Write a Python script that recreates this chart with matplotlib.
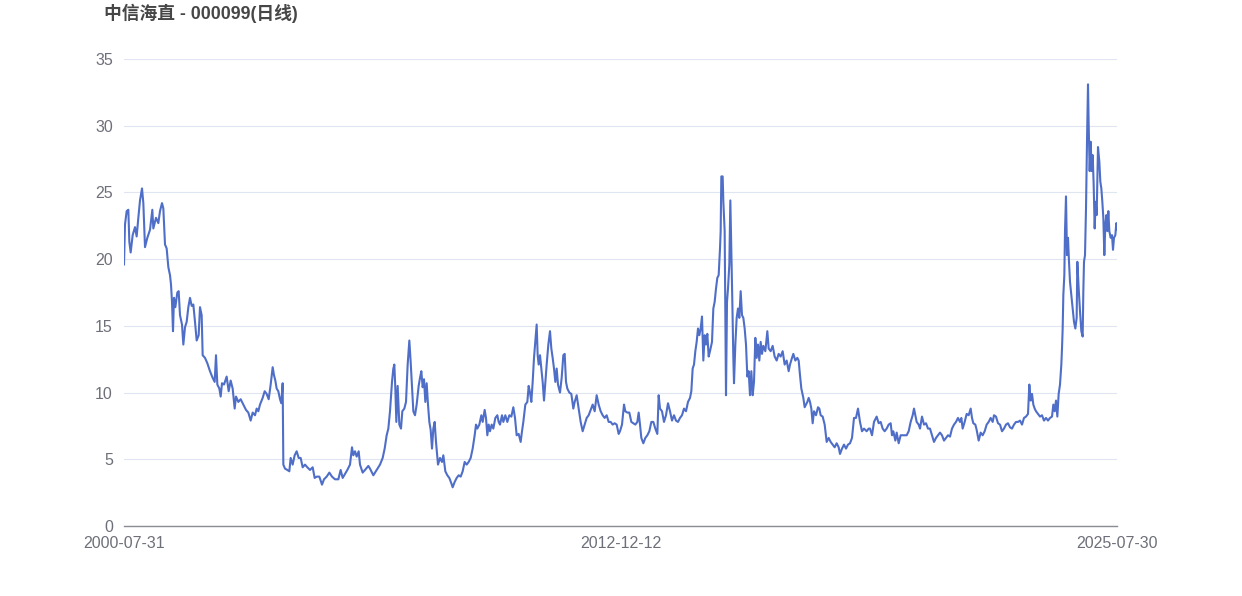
import matplotlib
matplotlib.use('Agg')
import matplotlib.pyplot as plt
import numpy as np

plt.rcParams['font.family'] = ['Liberation Sans', 'Noto Sans CJK SC', 'DejaVu Sans']

title = '中信海直 - 000099(日线)'
tick_dates = ['2000-07-31', '2012-12-12', '2025-07-30']
n_days = 5959  # trading days on the category axis

# trading-day index and close price
days_a = [0, 6, 16, 26, 32, 40, 52, 66, 76, 86, 96, 108, 116, 126, 140, 156, 170, 176, 192, 206,
          216, 228, 236, 246, 256, 266, 276, 282, 288, 294, 300, 308, 320, 328, 336, 348, 356, 366, 376, 386,
          396, 406, 416, 426, 436, 448, 456, 466, 472, 486, 500, 516, 532, 544, 552, 560, 572, 580, 588, 600,
          616, 628, 640, 652, 664, 672, 686, 700, 716, 732, 746, 760, 772, 786, 796, 806, 816, 832, 844, 856,
          868, 880, 892, 900, 908, 916, 926, 936, 944, 952, 956, 966, 980, 992, 1000, 1012, 1024, 1036, 1048, 1060,
          1072, 1086, 1100, 1116, 1132, 1144, 1156, 1172, 1188, 1200, 1216, 1232, 1248, 1266, 1286, 1300, 1312, 1326, 1340, 1356,
          1368, 1376, 1386, 1396, 1408, 1416, 1432, 1446, 1466]
close_a = [19.6, 22.6, 23.6, 23.7, 21.3, 20.5, 21.8, 22.4, 21.7, 23.1, 24.4, 25.3, 24.2, 20.9, 21.6, 22.2, 23.7, 22.3, 23.1, 22.7,
           23.6, 24.2, 23.8, 21.1, 20.8, 19.4, 18.8, 18.1, 16.8, 14.6, 17.1, 16.4, 17.5, 17.6, 15.8, 15.1, 13.6, 14.9, 15.3, 16.4,
           17.1, 16.5, 16.6, 15.3, 13.9, 14.3, 16.4, 15.8, 12.8, 12.6, 12.2, 11.6, 11.1, 10.8, 12.8, 10.6, 10.3, 9.7, 10.7, 10.6,
           11.2, 10.1, 10.9, 10.3, 8.8, 9.7, 9.3, 9.5, 9.1, 8.7, 8.5, 7.9, 8.5, 8.3, 8.8, 8.6, 9.1, 9.6, 10.1, 9.9,
           9.5, 10.6, 11.9, 11.3, 10.9, 10.3, 10.1, 9.5, 9.2, 10.7, 4.6, 4.3, 4.2, 4.1, 5.1, 4.6, 5.3, 5.6, 5.1, 5.1,
           4.4, 4.6, 4.4, 4.2, 4.4, 3.6, 3.7, 3.7, 3.1, 3.5, 3.7, 4.0, 3.7, 3.5, 3.5, 4.2, 3.6, 3.9, 4.2, 4.6,
           5.9, 5.3, 5.6, 5.2, 5.6, 4.6, 4.0, 4.2, 4.5]

days_b = [1476, 1496, 1516, 1536, 1552, 1564, 1576, 1586, 1596, 1608, 1616, 1622, 1628, 1634, 1642, 1652, 1662, 1670, 1682, 1692,
          1702, 1712, 1720, 1728, 1736, 1746, 1756, 1768, 1776, 1784, 1792, 1800, 1808, 1816, 1824, 1832, 1840, 1848, 1856, 1864,
          1872, 1884, 1896, 1908, 1916, 1928, 1940, 1952, 1964, 1972, 1984, 1996, 2008, 2020, 2032, 2044, 2056, 2068, 2080, 2092,
          2104, 2112, 2120, 2132, 2144, 2152, 2164, 2172, 2180, 2188, 2196, 2206, 2216, 2228, 2240, 2248, 2256, 2268, 2276, 2288,
          2300, 2312, 2324, 2336, 2346, 2356, 2368, 2380, 2388, 2396, 2408, 2420, 2428, 2436, 2444, 2452, 2460, 2468, 2476, 2482,
          2488, 2496, 2504, 2512, 2520, 2528, 2536, 2546, 2556, 2564, 2572, 2580, 2588, 2596, 2604, 2616, 2626, 2636, 2644, 2652,
          2660, 2672, 2684, 2696, 2704, 2716, 2728, 2740, 2752, 2764, 2776, 2788, 2800, 2812, 2824, 2836, 2848, 2860, 2872, 2884,
          2896, 2908, 2920, 2932, 2944, 2956, 2968]
close_b = [4.3, 3.8, 4.2, 4.6, 5.1, 5.8, 6.8, 7.3, 8.6, 10.8, 11.8, 12.1, 10.3, 7.8, 10.5, 7.6, 7.3, 8.6, 8.8, 9.3,
           12.1, 13.9, 12.3, 10.5, 8.6, 8.3, 9.1, 10.5, 11.1, 11.6, 10.4, 11.0, 9.3, 10.7, 9.1, 7.8, 7.2, 5.8, 7.3, 7.8,
           6.3, 4.6, 5.1, 4.8, 5.3, 4.1, 3.8, 3.6, 3.2, 2.9, 3.3, 3.6, 3.8, 3.7, 4.1, 4.8, 4.6, 4.8, 5.1, 5.8,
           6.8, 7.6, 7.3, 7.6, 8.3, 7.8, 8.7, 8.1, 6.8, 7.6, 7.1, 7.6, 7.3, 8.1, 8.3, 7.8, 7.6, 8.3, 7.8, 8.3,
           7.8, 8.3, 8.2, 8.9, 8.1, 6.8, 6.9, 6.3, 7.1, 7.8, 9.1, 9.3, 10.5, 10.0, 9.3, 10.8, 12.6, 13.8, 15.1, 12.8,
           12.1, 12.8, 11.8, 10.8, 9.4, 10.8, 12.1, 13.6, 14.6, 13.3, 12.6, 11.8, 10.8, 11.8, 10.6, 10.0, 11.1, 12.8, 12.9, 10.8,
           10.3, 10.0, 9.9, 8.8, 9.3, 9.8, 8.8, 7.8, 7.1, 7.6, 8.1, 8.3, 8.7, 9.1, 8.6, 9.8, 9.1, 8.6, 8.3, 8.1,
           8.3, 7.8, 7.8, 7.6, 7.7, 7.6, 6.9]

days_c = [2976, 2988, 3000, 3008, 3020, 3032, 3044, 3056, 3068, 3080, 3088, 3096, 3104, 3116, 3128, 3140, 3152, 3164, 3176, 3188,
          3200, 3208, 3216, 3228, 3240, 3252, 3264, 3276, 3288, 3300, 3312, 3324, 3336, 3348, 3360, 3372, 3384, 3396, 3404, 3412,
          3420, 3428, 3436, 3444, 3452, 3460, 3468, 3476, 3484, 3492, 3500, 3508, 3516, 3528, 3536, 3544, 3552, 3560, 3568, 3576,
          3580, 3584, 3592, 3596, 3604, 3612, 3618, 3624, 3632, 3638, 3644, 3650, 3656, 3660, 3668, 3676, 3684, 3692, 3700, 3708,
          3716, 3724, 3732, 3740, 3748, 3756, 3764, 3772, 3780, 3788, 3796, 3804, 3812, 3820, 3828, 3836, 3848, 3860, 3868, 3880,
          3892, 3904, 3916, 3928, 3940, 3952, 3964, 3976, 3988, 3996, 4008, 4016, 4028, 4040, 4048, 4056, 4064, 4076, 4084, 4092,
          4100, 4108, 4116, 4124, 4132, 4140, 4152, 4164, 4172, 4180, 4192, 4204, 4216, 4228, 4240, 4252, 4264, 4276, 4288, 4296,
          4308, 4320, 4332, 4344, 4356, 4368, 4380, 4392, 4404, 4416, 4428, 4440, 4456, 4468]
close_c = [7.1, 7.6, 9.1, 8.6, 8.5, 8.5, 7.8, 7.7, 7.6, 7.8, 8.5, 7.6, 6.6, 6.2, 6.6, 6.8, 7.1, 7.8, 7.8, 7.3,
           6.9, 9.8, 8.8, 8.6, 7.8, 8.3, 9.2, 8.6, 7.9, 8.3, 7.9, 7.8, 8.1, 8.3, 8.8, 8.6, 9.3, 9.6, 10.1, 11.8,
           12.1, 13.1, 13.8, 14.8, 14.3, 14.8, 15.7, 12.4, 14.3, 13.6, 14.4, 12.7, 13.1, 13.8, 16.3, 16.8, 17.8, 18.6, 18.8, 20.8,
           22.1, 26.2, 26.2, 24.3, 22.1, 9.8, 16.8, 17.8, 19.6, 24.4, 20.8, 16.8, 12.6, 10.7, 13.6, 15.6, 16.3, 15.6, 17.6, 15.8,
           15.6, 14.8, 13.6, 11.2, 11.6, 9.8, 11.6, 9.8, 10.8, 14.1, 12.6, 13.6, 12.4, 13.8, 12.9, 13.5, 13.1, 14.6, 13.3, 13.1,
           13.5, 12.7, 12.4, 12.9, 12.7, 13.1, 12.1, 12.4, 11.6, 12.1, 12.6, 12.9, 12.4, 12.6, 12.4, 11.3, 10.3, 9.6, 8.9, 9.1,
           9.3, 9.6, 9.3, 8.8, 7.7, 8.6, 8.3, 8.9, 8.8, 8.3, 8.2, 7.6, 6.3, 6.6, 6.3, 6.1, 5.9, 6.2, 5.9, 5.4,
           5.8, 6.1, 5.8, 6.1, 6.2, 6.6, 8.1, 8.1, 8.8, 7.8, 7.1, 7.3, 7.1, 7.3]

days_d = [4476, 4488, 4500, 4516, 4528, 4540, 4552, 4564, 4576, 4588, 4600, 4608, 4616, 4628, 4636, 4648, 4660, 4672, 4684, 4696,
          4708, 4720, 4732, 4740, 4748, 4756, 4768, 4776, 4788, 4800, 4812, 4824, 4836, 4848, 4860, 4872, 4884, 4896, 4908, 4920,
          4932, 4944, 4956, 4968, 4980, 4992, 5004, 5016, 5024, 5032, 5044, 5056, 5068, 5080, 5088, 5096, 5108, 5116, 5128, 5140,
          5152, 5164, 5176, 5188, 5200, 5212, 5220, 5232, 5244, 5256, 5268, 5280, 5292, 5304, 5316, 5328, 5340, 5352, 5364, 5376,
          5388, 5400, 5412, 5424, 5432, 5440, 5448, 5456, 5464, 5472, 5484, 5496, 5508, 5520, 5532, 5544, 5556, 5568, 5576, 5584,
          5592, 5600, 5608, 5616, 5624, 5628, 5632, 5636, 5642, 5646, 5652, 5658, 5664, 5670, 5676, 5684, 5692, 5700, 5708, 5716,
          5720, 5728, 5736, 5744, 5752, 5756, 5760, 5766, 5772, 5778, 5784, 5788, 5794, 5800, 5806, 5812, 5818, 5824, 5830, 5836,
          5844, 5852, 5858, 5864, 5870, 5876, 5882, 5888, 5894, 5900, 5906, 5912, 5920, 5928, 5934, 5940, 5948, 5954, 5958]
close_d = [7.3, 6.8, 7.8, 8.2, 7.7, 7.8, 7.3, 7.1, 7.3, 7.6, 7.7, 6.8, 7.1, 6.4, 7.0, 6.2, 6.8, 6.8, 6.8, 6.8,
           7.1, 7.8, 8.3, 8.8, 8.3, 7.8, 7.6, 7.3, 8.2, 7.6, 7.7, 7.3, 7.3, 6.8, 6.3, 6.6, 6.8, 7.0, 6.8, 6.4,
           6.6, 6.8, 6.7, 7.3, 7.6, 7.8, 8.1, 7.8, 8.1, 7.3, 7.8, 8.4, 8.3, 8.8, 8.1, 7.7, 7.6, 7.2, 6.4, 7.0,
           6.8, 7.1, 7.6, 7.8, 8.1, 7.8, 8.3, 8.2, 7.7, 7.6, 7.1, 7.3, 7.6, 7.7, 7.4, 7.3, 7.6, 7.8, 7.8, 7.9,
           7.6, 8.1, 8.2, 8.4, 10.6, 9.4, 9.9, 9.1, 8.8, 8.6, 8.4, 8.2, 8.3, 7.9, 8.1, 7.9, 8.1, 8.2, 9.1, 8.6,
           9.4, 8.2, 9.9, 10.6, 12.1, 13.3, 14.8, 17.3, 18.8, 22.1, 24.7, 20.3, 21.6, 19.8, 18.3, 17.3, 16.3, 15.3, 14.8, 15.6,
           19.8, 17.8, 16.1, 14.6, 14.2, 17.6, 19.8, 20.3, 23.8, 28.8, 33.1, 30.1, 26.6, 28.8, 26.6, 27.8, 25.6, 22.3, 24.3, 23.3,
           28.4, 27.3, 25.8, 25.3, 24.3, 23.1, 20.3, 22.6, 23.3, 22.1, 23.6, 22.1, 21.6, 21.8, 20.7, 21.6, 21.8, 22.7, 22.2]

days = days_a + days_b + days_c + days_d
close = close_a + close_b + close_c + close_d

fig = plt.figure(figsize=(12.42, 5.96), dpi=100)
ax = fig.add_axes([124 / 1242, 1 - 526 / 596, (1117 - 124) / 1242, (526 - 59) / 596])

ax.plot(days, close, color='#4f6ec8', lw=1.5, solid_joinstyle='round')

ax.set_xlim(0, n_days - 1)
ax.set_ylim(0, 35)
ax.set_yticks(np.arange(0, 36, 5))
ax.set_xticks([0, (n_days - 1) / 2, n_days - 1])
ax.set_xticklabels(tick_dates)
ax.grid(True, axis='y', color='#e0e6f1', lw=0.8)
ax.set_axisbelow(True)
for side in ['top', 'right', 'left']:
    ax.spines[side].set_visible(False)
ax.spines['bottom'].set_color('#8a8c94')
ax.spines['bottom'].set_linewidth(1)
ax.tick_params(axis='both', length=0, labelsize=11.5, labelcolor='#6e7079')
ax.tick_params(axis='y', pad=8)
ax.tick_params(axis='x', pad=7)

fig.text(104 / 1242, 1 - 13 / 596, title, fontsize=12.8, fontweight='bold',
         color='#464646', va='center', ha='left')

plt.savefig('out.png', dpi=100)
